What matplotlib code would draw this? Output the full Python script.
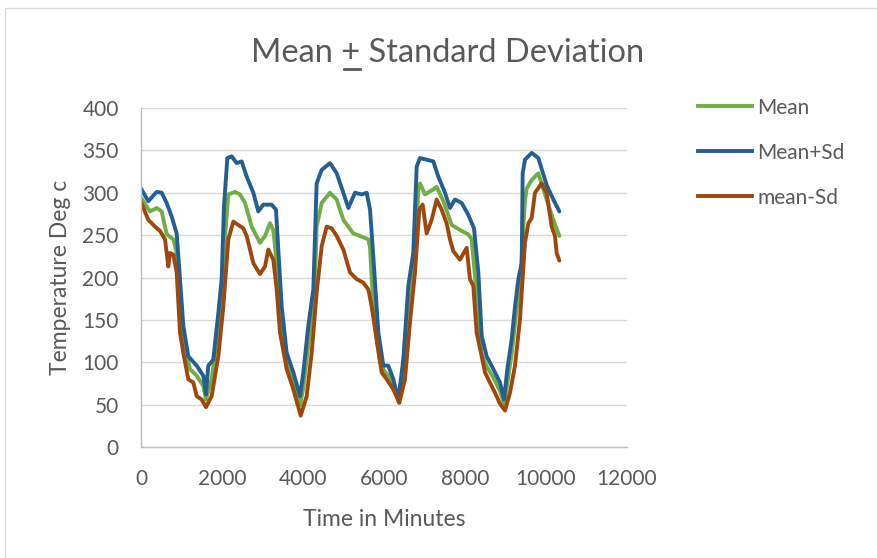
import matplotlib
matplotlib.use("Agg")
import matplotlib.pyplot as plt
from matplotlib.patches import Rectangle
from matplotlib.lines import Line2D

# ---- data ----
mean_x = [0, 222, 387, 510, 634, 798, 881, 963, 1045, 1210, 1375, 1539, 1605, 1745, 1869, 1991, 2099, 2157, 2321, 2444,
          2568, 2733, 2938, 3062, 3185, 3267, 3350, 3432, 3515, 3597, 3762, 3926, 4008, 4131, 4255, 4320, 4337, 4461, 4667, 4832,
          4996, 5243, 5408, 5613, 5655, 5695, 5780, 5900, 6000, 6150, 6250, 6353, 6450, 6580, 6700, 6800, 6850, 6889, 7012, 7218,
          7300, 7465, 7671, 7918, 8081, 8164, 8250, 8330, 8412, 8535, 8699, 8864, 8963, 9045, 9153, 9270, 9380, 9440, 9480, 9523,
          9646, 9810, 10016, 10181, 10329]
mean_y = [294, 278, 282, 278, 251, 245, 229, 182, 127, 92, 84, 72, 56, 80, 127, 186, 264, 298, 301, 298,
          288, 260, 241, 249, 264, 256, 217, 160, 125, 100, 78, 49, 70, 120, 170, 230, 260, 288, 300, 292,
          268, 252, 249, 245, 235, 200, 140, 100, 90, 82, 72, 55, 85, 160, 215, 260, 305, 311, 298, 304,
          307, 290, 262, 255, 251, 245, 200, 140, 110, 95, 82, 66, 51, 75, 110, 160, 205, 260, 290, 305,
          315, 323, 292, 268, 249]

plus_x = [0, 180, 387, 510, 634, 757, 881, 963, 1045, 1168, 1375, 1539, 1605, 1662, 1785, 1909, 1991, 2049, 2132, 2239,
          2362, 2486, 2609, 2774, 2896, 3020, 3226, 3333, 3390, 3474, 3597, 3762, 3926, 4008, 4131, 4255, 4337, 4461, 4667, 4832,
          4996, 5120, 5284, 5449, 5573, 5655, 5736, 5860, 5984, 6106, 6230, 6353, 6477, 6600, 6723, 6807, 6889, 7053, 7218, 7341,
          7506, 7629, 7753, 7918, 8081, 8222, 8329, 8412, 8535, 8699, 8864, 8963, 9045, 9153, 9235, 9317, 9400, 9424, 9481, 9646,
          9810, 10016, 10181, 10329]
plus_y = [305, 290, 301, 300, 288, 272, 252, 198, 143, 107, 96, 84, 62, 96, 103, 158, 198, 284, 341, 343,
          335, 337, 319, 300, 278, 286, 286, 280, 233, 166, 111, 88, 60, 88, 143, 186, 311, 327, 335, 323,
          300, 282, 300, 298, 300, 280, 225, 135, 96, 96, 80, 56, 103, 190, 229, 331, 341, 339, 337, 319,
          300, 282, 292, 288, 274, 258, 206, 131, 107, 92, 76, 56, 92, 127, 166, 198, 217, 323, 339, 347,
          341, 309, 292, 278]

minus_x = [0, 180, 346, 469, 593, 675, 716, 798, 881, 963, 1045, 1168, 1292, 1375, 1498, 1605, 1745, 1909, 2033, 2157,
           2280, 2403, 2526, 2609, 2774, 2938, 3062, 3144, 3267, 3350, 3432, 3597, 3762, 3943, 4091, 4214, 4337, 4461, 4585, 4708,
           4832, 4996, 5160, 5325, 5489, 5613, 5695, 5819, 5943, 6066, 6230, 6378, 6518, 6641, 6765, 6872, 6955, 7053, 7177, 7300,
           7424, 7547, 7629, 7712, 7876, 8041, 8123, 8205, 8288, 8412, 8494, 8617, 8741, 8864, 8988, 9111, 9235, 9358, 9481, 9564,
           9646, 9728, 9893, 10016, 10140, 10222, 10263, 10329]
minus_y = [289, 268, 260, 255, 245, 213, 229, 227, 206, 135, 111, 80, 76, 60, 56, 47, 60, 107, 166, 245,
           266, 262, 258, 249, 217, 204, 213, 233, 221, 186, 135, 92, 68, 37, 60, 111, 182, 237, 260, 258,
           249, 233, 206, 198, 194, 186, 166, 127, 88, 80, 68, 52, 80, 147, 206, 280, 286, 252, 268, 292,
           280, 264, 245, 231, 221, 235, 198, 190, 135, 107, 88, 76, 64, 51, 43, 64, 96, 151, 241, 264,
           270, 300, 311, 300, 260, 249, 229, 220]

series_names = ["Mean", "Mean+Sd", "mean-Sd"]
series_colors = ["#70AD47", "#255E91", "#9E480E"]
x_ticks = [0, 2000, 4000, 6000, 8000, 10000, 12000]
y_ticks = [0, 50, 100, 150, 200, 250, 300, 350, 400]

title_text = "Mean + Standard Deviation"
x_label = "Time in Minutes"
y_label = "Temperature Deg c"

# ---- figure ----
plt.rcParams['font.family'] = ['Lato', 'DejaVu Sans']
W, H = 877, 558
fig = plt.figure(figsize=(W / 100, H / 100), dpi=100)
fig.patch.set_facecolor("white")

# outer chart border
fig.patches.append(Rectangle((5 / W, -0.1), 1.2, 1 - 8 / H + 0.1, transform=fig.transFigure,
                             fill=False, edgecolor="#D9D9D9", linewidth=1.0))

ax = fig.add_axes([141 / W, 1 - 447 / H, (627 - 141) / W, (447 - 108) / H])
grey = "#595959"

for xs, ys, name, col in zip([mean_x, plus_x, minus_x], [mean_y, plus_y, minus_y], series_names, series_colors):
    ax.plot(xs, ys, color=col, lw=2.8, label=name, solid_joinstyle="round", solid_capstyle="round")

ax.set_xlim(0, 12000)
ax.set_ylim(0, 400)
ax.set_xticks(x_ticks)
ax.set_yticks(y_ticks)
ax.tick_params(length=0, labelsize=15, labelcolor=grey)
ax.tick_params(axis="y", pad=16)
ax.tick_params(axis="x", pad=16)
ax.yaxis.grid(True, color="#D9D9D9", lw=1.0)
ax.set_axisbelow(True)
for s in ["top", "right"]:
    ax.spines[s].set_visible(False)
for s in ["left", "bottom"]:
    ax.spines[s].set_color("#BFBFBF")
    ax.spines[s].set_linewidth(1.0)

ax.set_xlabel(x_label, fontsize=16.5, color=grey, labelpad=14)
ax.set_ylabel(y_label, fontsize=16.5, color=grey, labelpad=8)

# legend
handles = [Line2D([], [], color=c, lw=2.8) for c in series_colors]
fig.legend(handles, series_names, loc="upper left", bbox_to_anchor=(679 / W, 1 - 79 / H),
           frameon=False, fontsize=15, labelcolor=grey, handlelength=2.6, handletextpad=0.25,
           labelspacing=1.2)

# title with underlined "+"
ty = 1 - 62 / H
fs_title = 23.5
t = fig.text(448 / W, ty, title_text, ha="center", va="baseline", fontsize=fs_title, color=grey)
fig.canvas.draw()
r = fig.canvas.get_renderer()
bb = t.get_window_extent(r)
tmp1 = fig.text(0, 0, "Mean +", fontsize=fs_title)
tmp2 = fig.text(0, 0, "+", fontsize=fs_title)
w1 = tmp1.get_window_extent(r).width
w2 = tmp2.get_window_extent(r).width
tmp1.remove(); tmp2.remove()
x1 = bb.x0 + w1 - w2 + 2
x2 = bb.x0 + w1 - 1
yb = ty * H - 7
fig.lines.append(Line2D([x1 / W, x2 / W], [yb / H, yb / H], transform=fig.transFigure, color=grey, lw=2.0))

fig.savefig("out.png", dpi=100)
